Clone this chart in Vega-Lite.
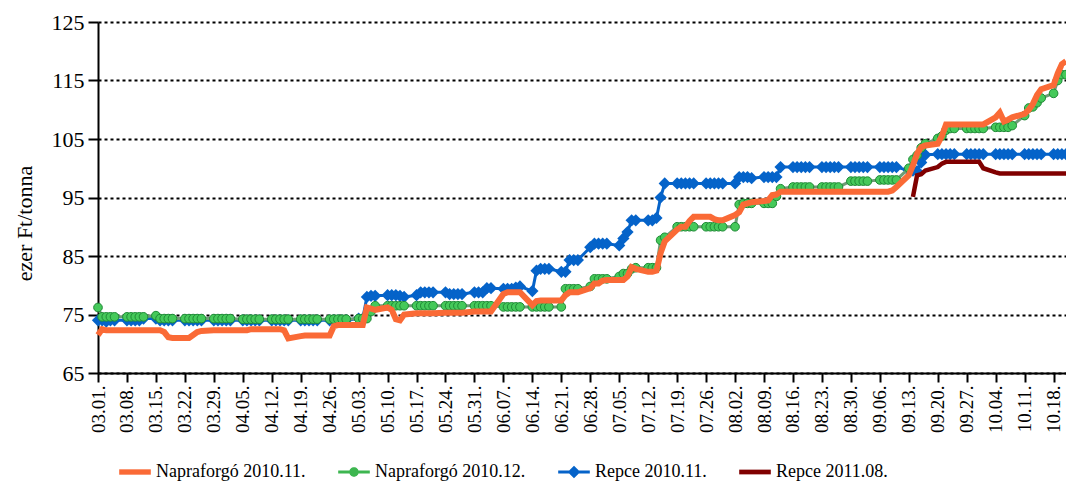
{
 "$schema": "https://vega.github.io/schema/vega-lite/v6.json",
 "width": 968,
 "height": 351,
 "autosize": "none",
 "padding": {"left": 98, "top": 22, "right": 0, "bottom": 115},
 "config": {
  "view": {"stroke": null},
  "font": "Liberation Serif",
  "axis": {"labelFont": "Liberation Serif", "titleFont": "Liberation Serif"},
  "legend": {"labelFont": "Liberation Serif"}
 },
 "datasets": {
  "p": [
   {"d":"2010-03-01","o":71.5,"g":76.2,"b":74},
   {"d":"2010-03-02","o":72.5,"g":74.6,"b":74},
   {"d":"2010-03-03","o":72.3,"g":74.6,"b":73.8},
   {"d":"2010-03-04","o":72.3,"g":74.6,"b":74},
   {"d":"2010-03-05","o":72.3,"g":74.6,"b":74},
   {"d":"2010-03-08","o":72.3,"g":74.6,"b":74},
   {"d":"2010-03-09","o":72.3,"g":74.6,"b":74},
   {"d":"2010-03-10","o":72.3,"g":74.6,"b":74},
   {"d":"2010-03-11","o":72.3,"g":74.6,"b":74},
   {"d":"2010-03-12","o":72.3,"g":74.6,"b":74.3},
   {"d":"2010-03-15","o":72.3,"g":74.8,"b":74.3},
   {"d":"2010-03-16","o":72.3,"g":74.3,"b":74},
   {"d":"2010-03-17","o":72.0,"g":74.3,"b":74},
   {"d":"2010-03-18","o":71.1,"g":74.3,"b":74},
   {"d":"2010-03-19","o":71.0,"g":74.3,"b":74},
   {"d":"2010-03-22","o":71.0,"g":74.3,"b":74},
   {"d":"2010-03-23","o":71.0,"g":74.3,"b":74},
   {"d":"2010-03-24","o":71.5,"g":74.3,"b":74},
   {"d":"2010-03-25","o":72.0,"g":74.3,"b":74},
   {"d":"2010-03-26","o":72.2,"g":74.3,"b":74},
   {"d":"2010-03-29","o":72.3,"g":74.3,"b":74},
   {"d":"2010-03-30","o":72.3,"g":74.3,"b":74},
   {"d":"2010-03-31","o":72.3,"g":74.3,"b":74},
   {"d":"2010-04-01","o":72.3,"g":74.3,"b":74},
   {"d":"2010-04-02","o":72.3,"g":74.3,"b":74},
   {"d":"2010-04-05","o":72.3,"g":74.2,"b":74},
   {"d":"2010-04-06","o":72.3,"g":74.2,"b":74},
   {"d":"2010-04-07","o":72.5,"g":74.2,"b":74},
   {"d":"2010-04-08","o":72.5,"g":74.2,"b":74},
   {"d":"2010-04-09","o":72.5,"g":74.2,"b":74},
   {"d":"2010-04-12","o":72.5,"g":74.2,"b":74},
   {"d":"2010-04-13","o":72.5,"g":74.2,"b":74},
   {"d":"2010-04-14","o":72.5,"g":74.2,"b":74},
   {"d":"2010-04-15","o":72.3,"g":74.2,"b":74},
   {"d":"2010-04-16","o":70.9,"g":74.2,"b":74},
   {"d":"2010-04-19","o":71.3,"g":74.2,"b":74},
   {"d":"2010-04-20","o":71.4,"g":74.2,"b":74},
   {"d":"2010-04-21","o":71.4,"g":74.2,"b":74},
   {"d":"2010-04-22","o":71.4,"g":74.2,"b":74},
   {"d":"2010-04-23","o":71.4,"g":74.2,"b":74},
   {"d":"2010-04-26","o":71.4,"g":74.2,"b":74},
   {"d":"2010-04-27","o":73.0,"g":74.2,"b":74},
   {"d":"2010-04-28","o":73.2,"g":74.2,"b":74},
   {"d":"2010-04-29","o":73.2,"g":74.2,"b":74},
   {"d":"2010-04-30","o":73.2,"g":74.2,"b":74},
   {"d":"2010-05-03","o":73.2,"g":74.3,"b":74.3},
   {"d":"2010-05-04","o":73.2,"g":74.3,"b":74.3},
   {"d":"2010-05-05","o":76.2,"g":74.3,"b":78.0},
   {"d":"2010-05-06","o":76.0,"g":75.5,"b":78.2},
   {"d":"2010-05-07","o":75.8,"g":76.5,"b":78.2},
   {"d":"2010-05-10","o":76.2,"g":76.5,"b":78.3},
   {"d":"2010-05-11","o":75.8,"g":76.5,"b":78.3},
   {"d":"2010-05-12","o":74.2,"g":76.5,"b":78.3},
   {"d":"2010-05-13","o":74.0,"g":76.5,"b":78.2},
   {"d":"2010-05-14","o":75.0,"g":76.5,"b":78.0},
   {"d":"2010-05-17","o":75.2,"g":76.5,"b":78.3},
   {"d":"2010-05-18","o":75.2,"g":76.5,"b":78.8},
   {"d":"2010-05-19","o":75.2,"g":76.5,"b":78.8},
   {"d":"2010-05-20","o":75.2,"g":76.5,"b":78.8},
   {"d":"2010-05-21","o":75.2,"g":76.5,"b":78.8},
   {"d":"2010-05-24","o":75.3,"g":76.5,"b":78.8},
   {"d":"2010-05-25","o":75.3,"g":76.5,"b":78.5},
   {"d":"2010-05-26","o":75.3,"g":76.5,"b":78.5},
   {"d":"2010-05-27","o":75.3,"g":76.5,"b":78.5},
   {"d":"2010-05-28","o":75.3,"g":76.5,"b":78.5},
   {"d":"2010-05-31","o":75.5,"g":76.5,"b":78.8},
   {"d":"2010-06-01","o":75.5,"g":76.5,"b":78.8},
   {"d":"2010-06-02","o":75.5,"g":76.5,"b":78.8},
   {"d":"2010-06-03","o":75.5,"g":76.5,"b":79.5},
   {"d":"2010-06-04","o":75.5,"g":76.5,"b":79.5},
   {"d":"2010-06-07","o":78.5,"g":76.3,"b":79.4},
   {"d":"2010-06-08","o":78.8,"g":76.3,"b":79.4},
   {"d":"2010-06-09","o":78.8,"g":76.3,"b":79.4},
   {"d":"2010-06-10","o":78.8,"g":76.3,"b":79.6},
   {"d":"2010-06-11","o":78.8,"g":76.3,"b":79.8},
   {"d":"2010-06-14","o":76.6,"g":76.3,"b":79.0},
   {"d":"2010-06-15","o":77.3,"g":76.3,"b":82.5},
   {"d":"2010-06-16","o":77.4,"g":76.3,"b":82.8},
   {"d":"2010-06-17","o":77.4,"g":76.3,"b":82.8},
   {"d":"2010-06-18","o":77.4,"g":76.3,"b":82.8},
   {"d":"2010-06-21","o":77.4,"g":76.3,"b":82.3},
   {"d":"2010-06-22","o":78.3,"g":79.4,"b":82.3},
   {"d":"2010-06-23","o":78.8,"g":79.4,"b":84.3},
   {"d":"2010-06-24","o":78.8,"g":79.4,"b":84.3},
   {"d":"2010-06-25","o":78.8,"g":79.4,"b":84.3},
   {"d":"2010-06-28","o":79.5,"g":79.8,"b":86.5},
   {"d":"2010-06-29","o":80.3,"g":81.1,"b":87.1},
   {"d":"2010-06-30","o":80.3,"g":81.1,"b":87.1},
   {"d":"2010-07-01","o":80.8,"g":81.1,"b":87.1},
   {"d":"2010-07-02","o":80.9,"g":81.1,"b":87.1},
   {"d":"2010-07-05","o":80.9,"g":81.5,"b":86.8},
   {"d":"2010-07-06","o":80.9,"g":82.0,"b":88.0},
   {"d":"2010-07-07","o":81.5,"g":82.0,"b":89.1},
   {"d":"2010-07-08","o":83.1,"g":82.8,"b":91.1},
   {"d":"2010-07-09","o":82.8,"g":83.0,"b":91.1},
   {"d":"2010-07-12","o":82.3,"g":83.0,"b":91.1},
   {"d":"2010-07-13","o":82.3,"g":83.0,"b":91.1},
   {"d":"2010-07-14","o":82.5,"g":83.0,"b":91.5},
   {"d":"2010-07-15","o":85.5,"g":87.7,"b":95.0},
   {"d":"2010-07-16","o":87.5,"g":88.2,"b":97.4},
   {"d":"2010-07-19","o":89.5,"g":90.0,"b":97.4},
   {"d":"2010-07-20","o":90.0,"g":90.0,"b":97.4},
   {"d":"2010-07-21","o":90.0,"g":90.0,"b":97.4},
   {"d":"2010-07-22","o":91.0,"g":90.0,"b":97.4},
   {"d":"2010-07-23","o":91.7,"g":90.0,"b":97.4},
   {"d":"2010-07-26","o":91.7,"g":90.0,"b":97.4},
   {"d":"2010-07-27","o":91.7,"g":90.0,"b":97.4},
   {"d":"2010-07-28","o":91.3,"g":90.0,"b":97.4},
   {"d":"2010-07-29","o":91.1,"g":90.0,"b":97.4},
   {"d":"2010-07-30","o":91.1,"g":90.0,"b":97.4},
   {"d":"2010-08-02","o":92.0,"g":90.0,"b":97.4},
   {"d":"2010-08-03","o":92.5,"g":93.8,"b":98.5},
   {"d":"2010-08-04","o":93.8,"g":94.0,"b":98.5},
   {"d":"2010-08-05","o":94.0,"g":94.0,"b":98.5},
   {"d":"2010-08-06","o":94.2,"g":94.0,"b":98.3},
   {"d":"2010-08-09","o":94.4,"g":94.0,"b":98.5},
   {"d":"2010-08-10","o":94.5,"g":94.0,"b":98.5},
   {"d":"2010-08-11","o":95.4,"g":94.0,"b":98.5},
   {"d":"2010-08-12","o":95.5,"g":95.2,"b":98.5},
   {"d":"2010-08-13","o":96.0,"g":96.5,"b":100.2},
   {"d":"2010-08-16","o":96.0,"g":96.8,"b":100.2},
   {"d":"2010-08-17","o":96.0,"g":96.8,"b":100.2},
   {"d":"2010-08-18","o":96.0,"g":96.8,"b":100.2},
   {"d":"2010-08-19","o":96.0,"g":96.8,"b":100.2},
   {"d":"2010-08-20","o":96.0,"g":96.8,"b":100.2},
   {"d":"2010-08-23","o":96.0,"g":96.8,"b":100.2},
   {"d":"2010-08-24","o":96.0,"g":96.8,"b":100.2},
   {"d":"2010-08-25","o":96.0,"g":96.8,"b":100.2},
   {"d":"2010-08-26","o":96.0,"g":96.8,"b":100.2},
   {"d":"2010-08-27","o":96.0,"g":96.8,"b":100.2},
   {"d":"2010-08-30","o":96.0,"g":97.8,"b":100.2},
   {"d":"2010-08-31","o":96.0,"g":97.8,"b":100.2},
   {"d":"2010-09-01","o":96.0,"g":97.8,"b":100.2},
   {"d":"2010-09-02","o":96.0,"g":97.8,"b":100.2},
   {"d":"2010-09-03","o":96.0,"g":97.8,"b":100.2},
   {"d":"2010-09-06","o":96.0,"g":98.0,"b":100.2},
   {"d":"2010-09-07","o":96.0,"g":98.0,"b":100.2},
   {"d":"2010-09-08","o":96.0,"g":98.0,"b":100.2},
   {"d":"2010-09-09","o":96.2,"g":98.0,"b":100.2},
   {"d":"2010-09-10","o":96.8,"g":98.0,"b":100.2},
   {"d":"2010-09-13","o":98.8,"g":100.0,"b":99.6},
   {"d":"2010-09-14","o":100.5,"g":101.5,"b":99.6,"r":95.1},
   {"d":"2010-09-15","o":102.5,"g":102.2,"b":99.5,"r":98.8},
   {"d":"2010-09-16","o":103.6,"g":103.5,"b":101.0,"r":99.0},
   {"d":"2010-09-17","o":103.9,"g":104.2,"b":102.3,"r":99.6},
   {"d":"2010-09-20","o":104.2,"g":105.1,"b":102.4,"r":100.2},
   {"d":"2010-09-21","o":105.5,"g":105.5,"b":102.4,"r":100.8},
   {"d":"2010-09-22","o":107.5,"g":106.5,"b":102.4,"r":101.1},
   {"d":"2010-09-23","o":107.5,"g":106.8,"b":102.4,"r":101.1},
   {"d":"2010-09-24","o":107.5,"g":106.8,"b":102.4,"r":101.1},
   {"d":"2010-09-27","o":107.5,"g":106.8,"b":102.4,"r":101.1},
   {"d":"2010-09-28","o":107.5,"g":106.8,"b":102.4,"r":101.1},
   {"d":"2010-09-29","o":107.5,"g":106.8,"b":102.4,"r":101.1},
   {"d":"2010-09-30","o":107.5,"g":106.8,"b":102.4,"r":101.1},
   {"d":"2010-10-01","o":107.5,"g":106.8,"b":102.4,"r":100.0},
   {"d":"2010-10-04","o":108.7,"g":107.0,"b":102.4,"r":99.3},
   {"d":"2010-10-05","o":109.5,"g":107.0,"b":102.4,"r":99.1},
   {"d":"2010-10-06","o":108.0,"g":107.0,"b":102.4,"r":99.1},
   {"d":"2010-10-07","o":108.3,"g":107.0,"b":102.4,"r":99.1},
   {"d":"2010-10-08","o":108.7,"g":107.3,"b":102.4,"r":99.1},
   {"d":"2010-10-11","o":109.3,"g":109.0,"b":102.4,"r":99.1},
   {"d":"2010-10-12","o":110.0,"g":110.3,"b":102.4,"r":99.1},
   {"d":"2010-10-13","o":111.0,"g":110.5,"b":102.4,"r":99.1},
   {"d":"2010-10-14","o":112.5,"g":111.2,"b":102.4,"r":99.1},
   {"d":"2010-10-15","o":113.5,"g":112.0,"b":102.4,"r":99.1},
   {"d":"2010-10-18","o":114.2,"g":112.8,"b":102.4,"r":99.1},
   {"d":"2010-10-19","o":116.2,"g":115.0,"b":102.4,"r":99.1},
   {"d":"2010-10-20","o":117.8,"g":116.0,"b":102.4,"r":99.1},
   {"d":"2010-10-21","o":118.3,"g":116.0,"b":102.4,"r":99.1}
  ]
 },
 "data": {"name": "p"},
 "transform": [{"fold": ["o", "g", "b", "r"], "as": ["k", "v"]}],
 "encoding": {
  "x": {
   "field": "d", "type": "temporal",
   "scale": {"type": "utc", "domain": [{"year":2010,"month":3,"date":1,"utc":true},{"year":2010,"month":10,"date":21,"utc":true}]},
   "axis": {
    "title": null, "grid": false, "labelExpr": "utcFormat(datum.value, '%m.%d.')",
    "labelAngle": -90, "labelFont": "Liberation Serif", "labelFontSize": 19, "labelColor": "black", "labelPadding": 3,
    "domainColor": "black", "domainWidth": 2, "tickColor": "black", "tickWidth": 2, "tickSize": 9,
    "labelOverlap": false,
    "values": [
     {"year":2010,"month":3,"date":1,"utc":true},{"year":2010,"month":3,"date":8,"utc":true},
     {"year":2010,"month":3,"date":15,"utc":true},{"year":2010,"month":3,"date":22,"utc":true},
     {"year":2010,"month":3,"date":29,"utc":true},{"year":2010,"month":4,"date":5,"utc":true},
     {"year":2010,"month":4,"date":12,"utc":true},{"year":2010,"month":4,"date":19,"utc":true},
     {"year":2010,"month":4,"date":26,"utc":true},{"year":2010,"month":5,"date":3,"utc":true},
     {"year":2010,"month":5,"date":10,"utc":true},{"year":2010,"month":5,"date":17,"utc":true},
     {"year":2010,"month":5,"date":24,"utc":true},{"year":2010,"month":5,"date":31,"utc":true},
     {"year":2010,"month":6,"date":7,"utc":true},{"year":2010,"month":6,"date":14,"utc":true},
     {"year":2010,"month":6,"date":21,"utc":true},{"year":2010,"month":6,"date":28,"utc":true},
     {"year":2010,"month":7,"date":5,"utc":true},{"year":2010,"month":7,"date":12,"utc":true},
     {"year":2010,"month":7,"date":19,"utc":true},{"year":2010,"month":7,"date":26,"utc":true},
     {"year":2010,"month":8,"date":2,"utc":true},{"year":2010,"month":8,"date":9,"utc":true},
     {"year":2010,"month":8,"date":16,"utc":true},{"year":2010,"month":8,"date":23,"utc":true},
     {"year":2010,"month":8,"date":30,"utc":true},{"year":2010,"month":9,"date":6,"utc":true},
     {"year":2010,"month":9,"date":13,"utc":true},{"year":2010,"month":9,"date":20,"utc":true},
     {"year":2010,"month":9,"date":27,"utc":true},{"year":2010,"month":10,"date":4,"utc":true},
     {"year":2010,"month":10,"date":11,"utc":true},{"year":2010,"month":10,"date":18,"utc":true}
    ]
   }
  },
  "y": {
   "field": "v", "type": "quantitative",
   "scale": {"domain": [65, 125], "nice": false, "zero": false},
   "axis": {
    "values": [65, 75, 85, 95, 105, 115, 125],
    "title": "ezer Ft/tonna", "titleFont": "Liberation Serif", "titleFontSize": 22, "titleFontWeight": "normal", "titleColor": "black", "titlePadding": 15, "titleY": 201,
    "grid": true, "gridColor": "black", "gridDash": [3, 3], "gridWidth": 2, "gridOpacity": 1,
    "domainColor": "black", "domainWidth": 2, "tickColor": "black", "tickWidth": 2, "tickSize": 10,
    "labelFont": "Liberation Serif", "labelFontSize": 22, "labelColor": "black", "labelPadding": 4
   }
  }
 },
 "layer": [
  {
   "transform": [{"filter": "datum.k === 'b'"}],
   "mark": {"type": "line", "color": "#0563C9", "strokeWidth": 3,
            "point": {"shape": "diamond", "filled": true, "size": 150, "color": "#0563C9", "opacity": 1}}
  },
  {
   "transform": [{"filter": "datum.k === 'r' && isValid(datum.v)"}],
   "mark": {"type": "line", "color": "#800000", "strokeWidth": 4.5}
  },
  {
   "transform": [{"filter": "datum.k === 'g'"}],
   "mark": {"type": "line", "color": "#6E9C76", "strokeWidth": 3,
            "point": {"shape": "circle", "filled": true, "size": 75, "fill": "#45C95A", "stroke": "#1E8A35", "strokeWidth": 1, "opacity": 1}}
  },
  {
   "transform": [{"filter": "datum.k === 'o'"}],
   "mark": {"type": "line", "color": "#FA6A36", "strokeWidth": 6}
  },
  {
   "data": {"values": [{"s": "Napraforgó 2010.11."}, {"s": "Napraforgó 2010.12."}, {"s": "Repce 2010.11."}, {"s": "Repce 2011.08."}]},
   "transform": [{"filter": "false"}],
   "mark": {"type": "point", "filled": true, "opacity": 1, "strokeWidth": 0},
   "encoding": {
    "x": {"value": 0},
    "y": {"value": 0},
    "color": {
     "field": "s", "type": "nominal",
     "scale": {"domain": ["Napraforgó 2010.11.", "Napraforgó 2010.12.", "Repce 2010.11.", "Repce 2011.08."],
               "range": ["#FA6A36", "#3DB650", "#0563C9", "#800000"]},
     "legend": {"orient": "none", "legendX": 21, "legendY": 434, "direction": "horizontal", "title": null,
                "labelFont": "Liberation Serif", "labelFontSize": 18, "labelColor": "black",
                "symbolSize": 1000, "symbolStrokeWidth": 0, "symbolOpacity": 1, "labelOffset": 5, "columnPadding": 32,
                "padding": 0, "labelLimit": 300}
    },
    "shape": {
     "field": "s", "type": "nominal",
     "scale": {"domain": ["Napraforgó 2010.11.", "Napraforgó 2010.12.", "Repce 2010.11.", "Repce 2011.08."],
               "range": ["M-1,-0.17H1V0.17H-1Z",
                         "M-1,-0.09H1V0.09H-1Z M0.3,0A0.3,0.3,0,1,1,-0.3,0A0.3,0.3,0,1,1,0.3,0Z",
                         "M-1,-0.1H1V0.1H-1Z M0,-0.4L0.4,0L0,0.4L-0.4,0Z",
                         "M-1,-0.15H1V0.15H-1Z"]}
    }
   }
  }
 ]
}
